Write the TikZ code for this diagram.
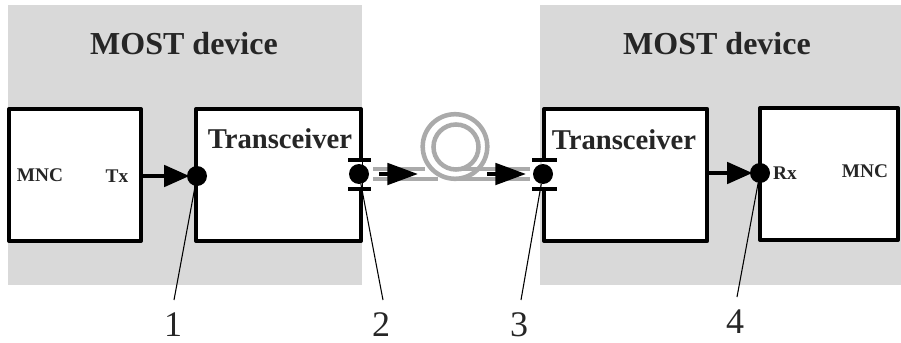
\documentclass[tikz,border=0pt]{standalone}
\usepackage{fontspec}
\setmainfont{Liberation Serif}
\usetikzlibrary{arrows.meta}
\definecolor{devgray}{RGB}{217,217,217}
\definecolor{fibergray}{RGB}{170,170,170}
\tikzset{
    devbox/.style={fill=devgray, minimum height=210pt, inner sep=0pt},
    blockbox/.style={draw=black, fill=white, line width=3pt, line join=round, inner sep=0pt},
    title/.style={font=\fontsize{24}{24}\selectfont\bfseries, text=black!85, inner sep=0pt},
    trx/.style={font=\fontsize{21.5}{21.5}\selectfont\bfseries, text=black!85, inner sep=0pt},
    port/.style={font=\fontsize{14.5}{14.5}\selectfont\bfseries, text=black!85, inner sep=0pt},
    num/.style={font=\fontsize{27}{27}\selectfont, text=black!85, inner sep=0pt},
    dot/.style={circle, fill=black, inner sep=0pt, minimum size=15pt},
    flow/.style={line width=3pt, shorten >=-2pt, -{Triangle[length=19pt,width=16pt]}},
    fiberflow/.style={line width=3pt, -{Triangle[length=23pt,width=16pt]}},
    leader/.style={line width=0.8pt},
    bar/.style={line width=3pt},
    fiber/.style={draw=fibergray, line width=3.4pt}
}
\begin{document}
\begin{tikzpicture}[x=0.75pt,y=0.75pt,yscale=-1,xscale=1]
    \useasboundingbox (0,0) rectangle (901,343);

    % Device backgrounds
    \node [devbox, anchor=north west, minimum width=265.5pt] (devleft) at (8,5) {};
    \node [devbox, anchor=north west, minimum width=270.75pt] (devright) at (540,5) {};

    % Blocks
    \node [blockbox, anchor=north west, minimum width=99pt, minimum height=99pt] (mncleft) at (7,107) {};
    \node [blockbox, anchor=north west, minimum width=123.7pt, minimum height=99pt] (trxleft) at (194,107) {};
    \node [blockbox, anchor=north west, minimum width=122.5pt, minimum height=99pt] (trxright) at (542,107) {};
    \node [blockbox, anchor=north west, minimum width=103.5pt, minimum height=99pt] (mncright) at (758,106) {};

    % Text
    \node [title] (titleleft) at (184,44) {MOST device};
    \node [title] (titleright) at (717,44) {MOST device};
    \node [trx] (trxtextleft) at (280,139) {Transceiver};
    \node [trx] (trxtextright) at (624,140) {Transceiver};
    \node [port] (mnctextleft) at (40,175) {MNC};
    \node [port] (txtext) at (117,176) {Tx};
    \node [port] (rxtext) at (785,173) {Rx};
    \node [port] (mnctextright) at (865,171) {MNC};

    % Fiber coil
    \draw [fiber] (373,169) -- (425,169);
    \draw [fiber] (373,179) -- (438,179);
    \draw [fiber] (455,146.5) circle [radius=32.3];
    \draw [fiber] (456,147) circle [radius=22.5];
    \draw [fiber] (457,169) -- (530,169);
    \draw [fiber] (457,179) -- (530,179);

    % Connector gaps
    \draw [white, line width=3.2pt] (359.5,160) -- (359.5,189);
    \draw [white, line width=3.2pt] (544,160) -- (544,189);

    % Dots and bars
    \node [dot] (dottx) at (197,176) {};
    \node [dot] (dotout) at (359,174) {};
    \node [dot] (dotin) at (543,174) {};
    \node [dot] (dotrx) at (760,173) {};
    \draw [bar] (348,160) -- (371,160);
    \draw [bar] (348,189) -- (371,189);
    \draw [bar] (532,160) -- (557,160);
    \draw [bar] (532,189) -- (557,189);

    % Arrows
    \coordinate (fibera) at (379,174);
    \coordinate (fiberb) at (418,174);
    \coordinate (fiberc) at (487,174);
    \coordinate (fiberd) at (526,174);
    \draw [flow] (mncleft.east |- dottx) -- (dottx);
    \draw [fiberflow] (fibera) -- (fiberb);
    \draw [fiberflow] (fiberc) -- (fiberd);
    \draw [flow] (trxright.east |- dotrx) -- (dotrx);

    % Numbers
    \node [num] (numa) at (173,325) {1};
    \node [num] (numb) at (381,325) {2};
    \node [num] (numc) at (519,325) {3};
    \node [num] (numd) at (735,322) {4};
    \coordinate (enda) at (174,300);
    \coordinate (endb) at (383,300);
    \coordinate (endc) at (521,300);
    \coordinate (endd) at (737,297);
    \draw [leader] (dottx) -- (enda);
    \draw [leader] (dotout) -- (endb);
    \draw [leader] (dotin) -- (endc);
    \draw [leader] (dotrx) -- (endd);
\end{tikzpicture}
\end{document}
